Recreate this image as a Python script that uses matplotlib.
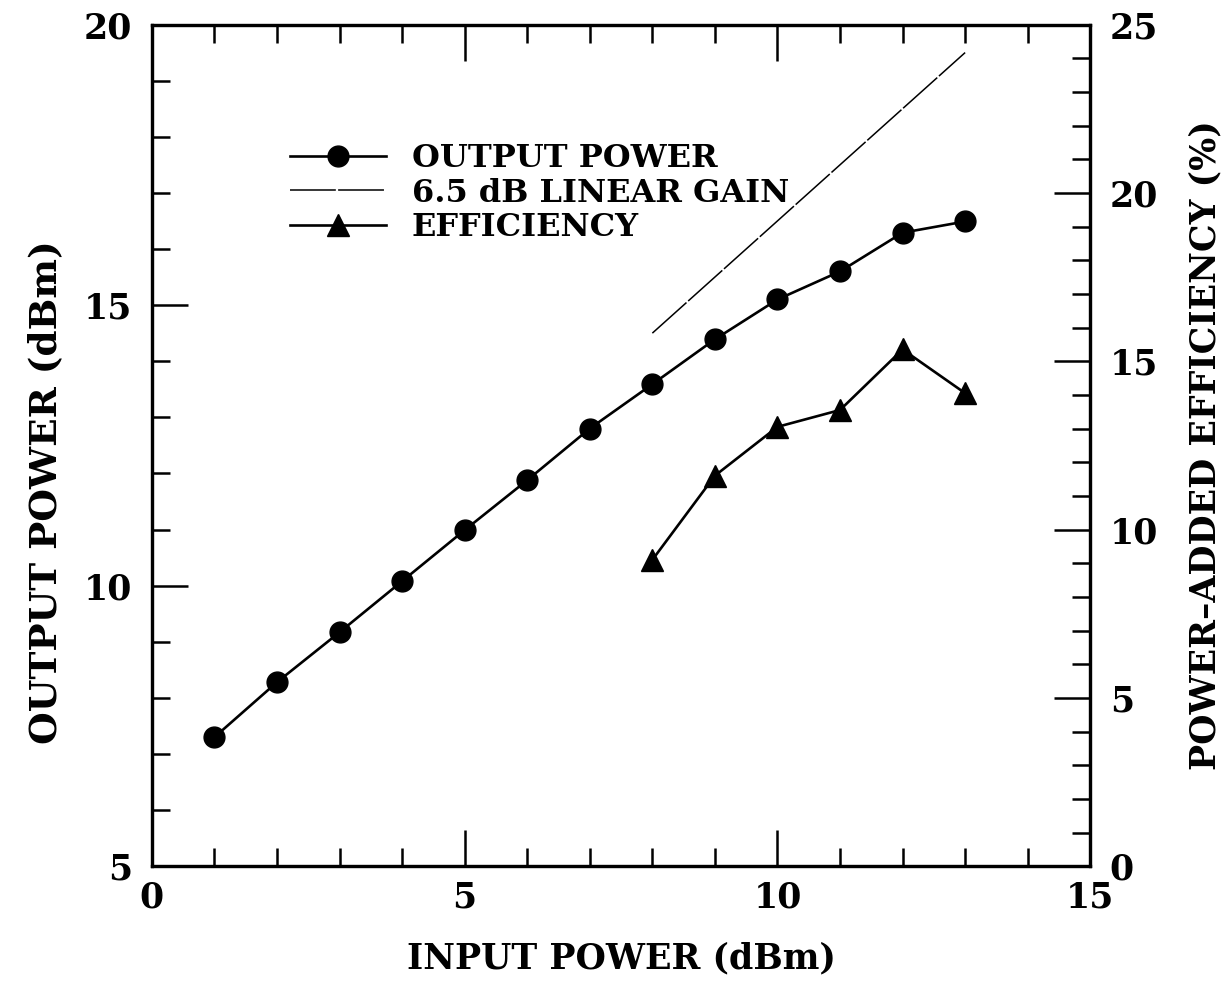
import numpy as np
import matplotlib.pyplot as plt
from matplotlib.ticker import MultipleLocator

# data
pin = [1, 2, 3, 4, 5, 6, 7, 8, 9, 10, 11, 12, 13]
pout = [7.30, 8.28, 9.17, 10.08, 10.99, 11.88, 12.80, 13.59, 14.39, 15.10, 15.60, 16.29, 16.49]
eff_pin = [8, 9, 10, 11, 12, 13]
eff = [9.1, 11.6, 13.05, 13.55, 15.35, 14.05]
gain_pin = [8, 13]
gain_db = 6.5

plt.rcParams['font.family'] = ['DejaVu Serif']
plt.rcParams['font.weight'] = 'bold'

fig = plt.figure(figsize=(12.25, 9.81), dpi=100)
ax = fig.add_axes([0.124, 0.117, 0.766, 0.858])
ax2 = ax.twinx()

lw = 1.9
l1, = ax.plot(pin, pout, '-o', color='black', lw=lw, ms=15, label='OUTPUT POWER')
l2, = ax.plot(gain_pin, [p + gain_db for p in gain_pin], '-', color='black', lw=1.1,
              dashes=(30, 1.5), label='6.5 dB LINEAR GAIN')
l3, = ax2.plot(eff_pin, eff, '-^', color='black', lw=lw, ms=16, label='EFFICIENCY')

ax.set_xlim(0, 15)
ax.set_ylim(5, 20)
ax2.set_ylim(0, 25)

ax.xaxis.set_major_locator(MultipleLocator(5))
ax.xaxis.set_minor_locator(MultipleLocator(1))
ax.yaxis.set_major_locator(MultipleLocator(5))
ax.yaxis.set_minor_locator(MultipleLocator(1))
ax2.yaxis.set_major_locator(MultipleLocator(5))
ax2.yaxis.set_minor_locator(MultipleLocator(1))

for a in (ax, ax2):
    for s in a.spines.values():
        s.set_linewidth(2.3)
ax.tick_params(which='both', direction='in', top=True, width=1.8, labelsize=25)
ax.tick_params(axis='x', pad=10)
ax.tick_params(axis='y', pad=14)
ax.tick_params(which='major', length=26)
ax.tick_params(which='minor', length=13)
ax2.tick_params(which='both', direction='in', width=1.8, labelsize=25, pad=14)
ax2.tick_params(which='major', length=26)
ax2.tick_params(which='minor', length=13)

ax.set_xlabel('INPUT POWER (dBm)', fontsize=25, fontweight='bold', labelpad=20)
ax.set_ylabel('OUTPUT POWER (dBm)', fontsize=27, fontweight='bold', labelpad=14)
ax.yaxis.set_label_coords(-0.094, 0.444)
ax2.set_ylabel('POWER\u2013ADDED EFFICIENCY (%)', fontsize=25, fontweight='bold', labelpad=22)

ax.legend(handles=[l1, l2, l3], loc='upper left', bbox_to_anchor=(0.134, 0.874),
          frameon=False, fontsize=23, handlelength=3.0, handletextpad=0.8,
          labelspacing=0.1, borderaxespad=0)

fig.savefig('out.png', dpi=100)
